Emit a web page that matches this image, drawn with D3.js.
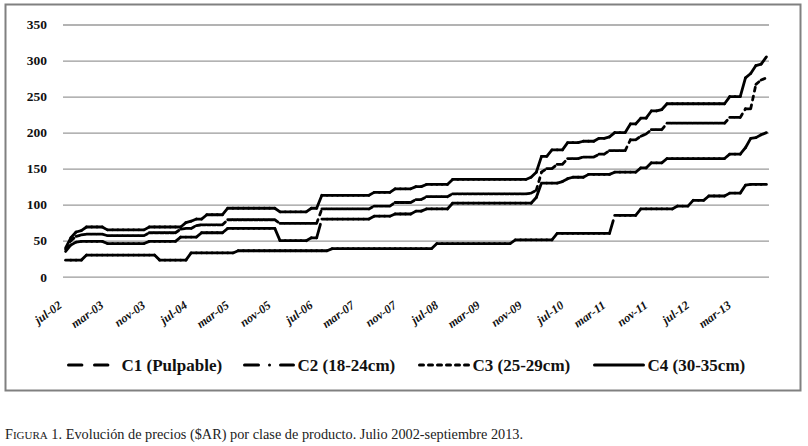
<!DOCTYPE html>
<html>
<head>
<meta charset="utf-8">
<script src="https://cdn.jsdelivr.net/npm/d3@7"></script>
<style>
  body { margin: 0; background: #fff; }
  svg { display: block; }
</style>
</head>
<body>
<div class="chart"></div>
<script>
// Monthly prices ($AR), jul-02 .. sep-13 (one row per calendar year)
const c1 = [
  23, 23, 23, 23, 30, 30,
  30, 30, 30, 30, 30, 30, 30, 30, 30, 30, 30, 30,
  23, 23, 23, 23, 23, 23, 33, 33, 33, 33, 33, 33,
  33, 33, 33, 36, 36, 36, 36, 36, 36, 36, 36, 36,
  36, 36, 36, 36, 36, 36, 36, 36, 36, 39, 39, 39,
  39, 39, 39, 39, 39, 39, 39, 39, 39, 39, 39, 39,
  39, 39, 39, 39, 39, 46, 46, 46, 46, 46, 46, 46,
  46, 46, 46, 46, 46, 46, 46, 46, 51, 51, 51, 51,
  51, 51, 51, 51, 60, 60, 60, 60, 60, 60, 60, 60,
  60, 60, 60, 85, 85, 85, 85, 85, 94, 94, 94, 94,
  94, 94, 94, 98, 98, 98, 106, 106, 106, 112, 112, 112,
  112, 116, 116, 116, 127, 128, 128, 128, 128
];
const c2 = [
  35, 44, 48, 49, 49, 49,
  49, 49, 46, 46, 46, 46, 46, 46, 46, 46, 49, 49,
  49, 49, 49, 49, 55, 55, 55, 55, 61, 61, 61, 61,
  61, 67, 67, 67, 67, 67, 67, 67, 67, 67, 67, 50,
  50, 50, 50, 50, 50, 54, 54, 80, 80, 80, 80, 80,
  80, 80, 80, 80, 80, 84, 84, 84, 84, 87, 87, 87,
  87, 91, 91, 94, 94, 94, 94, 94, 102, 102, 102, 102,
  102, 102, 102, 102, 102, 102, 102, 102, 102, 102, 102, 102,
  110, 130, 130, 130, 130, 132, 136, 138, 138, 138, 142, 142,
  142, 142, 142, 145, 145, 145, 145, 145, 151, 151, 158, 158,
  158, 164, 164, 164, 164, 164, 164, 164, 164, 164, 164, 164,
  164, 170, 170, 170, 179, 192, 193, 197, 200
];
const c3 = [
  38, 50, 56, 58, 59, 59,
  59, 59, 57, 57, 57, 57, 57, 57, 57, 57, 61, 61,
  61, 61, 61, 61, 66, 67, 67, 71, 72, 72, 72, 72,
  72, 79, 79, 79, 79, 79, 79, 79, 79, 79, 79, 74,
  74, 74, 74, 74, 74, 74, 74, 94, 94, 94, 94, 94,
  94, 94, 94, 94, 94, 98, 98, 98, 98, 103, 103, 103,
  103, 107, 107, 111, 111, 111, 111, 111, 115, 115, 115, 115,
  115, 115, 115, 115, 115, 115, 115, 115, 115, 115, 115, 116,
  120, 145, 150, 150, 156, 156, 164, 164, 164, 166, 166, 166,
  170, 170, 175, 175, 175, 175, 190, 190, 195, 198, 204, 204,
  204, 213, 213, 213, 213, 213, 213, 213, 213, 213, 213, 213,
  213, 221, 221, 221, 233, 233, 267, 273, 276
];
const c4 = [
  40, 54, 62, 64, 69, 69,
  69, 69, 65, 65, 65, 65, 65, 65, 65, 65, 69, 69,
  69, 69, 69, 69, 69, 75, 77, 80, 80, 86, 86, 86,
  86, 95, 95, 95, 95, 95, 95, 95, 95, 95, 95, 90,
  90, 90, 90, 90, 90, 95, 95, 113, 113, 113, 113, 113,
  113, 113, 113, 113, 113, 117, 117, 117, 117, 122, 122, 122,
  122, 125, 125, 128, 128, 128, 128, 128, 135, 135, 135, 135,
  135, 135, 135, 135, 135, 135, 135, 135, 135, 135, 135, 138,
  145, 167, 167, 176, 176, 176, 186, 186, 186, 188, 188, 188,
  192, 192, 194, 200, 200, 200, 212, 212, 220, 220, 230, 230,
  232, 240, 240, 240, 240, 240, 240, 240, 240, 240, 240, 240,
  240, 250, 250, 250, 276, 282, 293, 295, 305
];

const seriesNames = ['C1 (Pulpable)', 'C2 (18-24cm)', 'C3 (25-29cm)', 'C4 (30-35cm)'];
const yTicks = [0, 50, 100, 150, 200, 250, 300, 350];
const tickLabels = ['jul-02', 'mar-03', 'nov-03', 'jul-04', 'mar-05', 'nov-05', 'jul-06', 'mar-07',
  'nov-07', 'jul-08', 'mar-09', 'nov-09', 'jul-10', 'mar-11', 'nov-11', 'jul-12', 'mar-13'];
const monthAbbr = ['ene', 'feb', 'mar', 'abr', 'may', 'jun', 'jul', 'ago', 'sep', 'oct', 'nov', 'dic'];
const caption = 'Evolución de precios ($AR) por clase de producto. Julio 2002-septiembre 2013.';

// Categories: every month jul-02 .. sep-13
const months = d3.timeMonths(new Date(2002, 6, 1), new Date(2013, 9, 1))
    .map(d => `${monthAbbr[d.getMonth()]}-${String(d.getFullYear()).slice(2)}`);

const series = [c1, c2, c3, c4].map((v, k) => ({name: seriesNames[k], values: v}));

// Line styles (round caps, so dashes look longer than the array says)
const dashes = ['13.4,12.6', '14,11,0.01,11', '4,5', null];
const lineW = 2.8;

// Plot constants
const W = 808, H = 446;
const plot = {left: 63, right: 769, top: 24.5, bottom: 276.7};

const svg = d3.select('.chart')
    .append('svg')
        .attr('width', W)
        .attr('height', H)
        .style('font-family', '"Liberation Serif", "Times New Roman", serif');

// Chart frame
svg.append('rect')
    .attr('x', 5.5)
    .attr('y', 4.5)
    .attr('width', 795)
    .attr('height', 386)
    .attr('fill', 'none')
    .attr('stroke', '#808080')
    .attr('stroke-width', 2);

const x = d3.scalePoint()
    .domain(months)
    .range([plot.left, plot.right])
    .padding(0.5);
const y = d3.scaleLinear()
    .domain([0, 350])
    .range([plot.bottom, plot.top]);

// Horizontal gridlines + y labels
const yAxis = svg.append('g')
    .attr('transform', `translate(${plot.left},0)`)
    .call(d3.axisLeft(y)
        .tickValues(yTicks)
        .tickSize(-(plot.right - plot.left))
        .tickPadding(16));
yAxis.select('.domain').remove();
yAxis.selectAll('line')
    .attr('stroke', '#9a9a9a')
    .attr('stroke-width', 1.3);
yAxis.selectAll('text')
    .attr('fill', '#111')
    .style('font-family', '"Liberation Serif", serif')
    .style('font-size', '13.5px')
    .style('font-weight', 'bold');

// Rotated month labels
svg.append('g')
    .selectAll('text')
    .data(tickLabels)
    .enter()
        .append('text')
        .attr('transform', d => `translate(${x(d) - 3},307) rotate(-36)`)
        .attr('text-anchor', 'end')
        .attr('fill', '#111')
        .style('font-size', '12.2px')
        .style('font-weight', 'bold')
        .style('font-style', 'italic')
        .text(d => d);

// Lines: one element per monthly segment, so the dash restarts on every segment
series.forEach((s, k) => {
    const segs = d3.pairs(s.values.map((v, i) => [x(months[i]), y(v)]));
    svg.append('g')
        .selectAll('line')
        .data(segs)
        .enter()
            .append('line')
            .attr('x1', d => d[0][0])
            .attr('y1', d => d[0][1])
            .attr('x2', d => d[1][0])
            .attr('y2', d => d[1][1])
            .attr('stroke', '#000')
            .attr('stroke-width', lineW)
            .attr('stroke-linecap', 'round')
            .attr('stroke-dasharray', dashes[k]);
});

// Legend
const legendX = [68.5, 244.5, 419.5, 594.5];
const legend = svg.append('g')
    .selectAll('g')
    .data(series)
    .enter()
        .append('g')
        .attr('transform', (d, k) => `translate(${legendX[k]},365)`);
legend.append('line')
    .attr('x1', 0)
    .attr('x2', 49)
    .attr('stroke', '#000')
    .attr('stroke-width', 3)
    .attr('stroke-linecap', 'round')
    .attr('stroke-dasharray', (d, k) => dashes[k]);
legend.append('text')
    .attr('x', 53)
    .attr('y', 5.5)
    .attr('fill', '#111')
    .style('font-size', '17px')
    .style('font-weight', 'bold')
    .text(d => d.name);

// Caption
const cap = svg.append('text')
    .attr('x', 5)
    .attr('y', 439)
    .attr('fill', '#222')
    .style('font-size', '14.3px');
cap.append('tspan').text('F');
cap.append('tspan').style('font-size', '11px').text('IGURA');
cap.append('tspan').text(' 1. ' + caption);
</script>
</body>
</html>
